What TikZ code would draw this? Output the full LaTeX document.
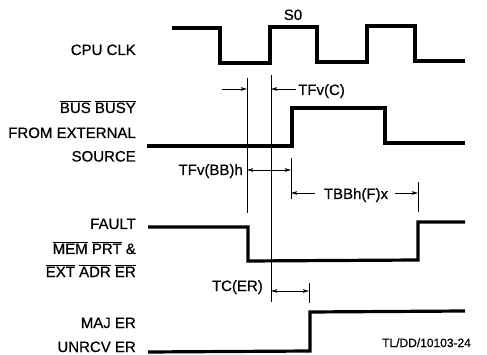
\documentclass[tikz,border=0pt]{standalone}
\usepackage{fontspec}
\setmainfont{Liberation Sans}[FakeBold=0.6]
\usetikzlibrary{arrows.meta,positioning}

\tikzset{
  sig/.style={line width=3.2pt, line join=miter},
  dim/.style={line width=0.8pt},
  dimarrow/.style={line width=0.8pt, -{Stealth[length=6pt,width=3.5pt,inset=1pt]}},
  dimboth/.style={line width=0.8pt, {Stealth[length=6pt,width=3.5pt,inset=1pt]}-{Stealth[length=6pt,width=3.5pt,inset=1pt]}},
  lbl/.style={anchor=base east, inner sep=0pt, font=\fontsize{15}{18}\selectfont},
  txt/.style={inner sep=0pt, font=\fontsize{15}{18}\selectfont},
}
\newcommand{\ovl}[1]{$\overline{\mbox{#1}}$}

\begin{document}
\begin{tikzpicture}[x=1pt,y=-1pt]
\useasboundingbox (0,0) rectangle (487,355);

% Signal names
\node[lbl] (cpuclk) at (136,55) {CPU CLK};
\node[lbl] (busbusy) at (136,113) {\ovl{BUS} \ovl{BUSY}};
\node[lbl] (fromext) at (136,138) {FROM EXTERNAL};
\node[lbl] (source) at (136,161.5) {SOURCE};
\node[lbl] (fault) at (136,229) {FAULT};
\node[lbl] (memprt) at (136,254) {\ovl{MEM} \ovl{PRT} \&};
\node[lbl] (extadr) at (136,277) {\ovl{EXT} \ovl{ADR} \ovl{ER}};
\node[lbl] (majer) at (136,328) {MAJ ER};
\node[lbl] (unrcv) at (136,352) {UNRCV ER};

% Waveforms
\draw[sig] (172,28) -- (220,28) -- (220,63) -- (270,63) -- (270,27) -- (317,27)
  -- (317,62) -- (367,62) -- (367,26) -- (415,26) -- (415,61) -- (465,61);
\draw[sig] (147,146) -- (292,146) -- (292,108) -- (385,108) -- (385,143) -- (465,143);
\draw[sig] (148,227) -- (248,227) -- (248,261) -- (418,260) -- (418,222) -- (465,222);
\draw[sig] (148,352) -- (310,351) -- (310,312) -- (465,311);

\node[txt, anchor=base] (szero) at (293,20) {S0};

% Extension lines
\coordinate (e1t) at (247,78);  \coordinate (e1b) at (247,213);
\coordinate (e2t) at (271,75);  \coordinate (e2b) at (271,302);
\coordinate (e3t) at (291,158); \coordinate (e3b) at (291,199);
\coordinate (e4t) at (418,182); \coordinate (e4b) at (418,212);
\coordinate (e5t) at (309,283); \coordinate (e5b) at (309,303);
\foreach \e in {1,...,5}
  \draw[dim] (e\e t) -- (e\e b);

% TFv(C)
\coordinate (a1) at (222,89);
\coordinate (a2) at (296,89);
\draw[dimarrow] (a1) -- (a1 -| e1t);
\draw[dimarrow] (a2) -- (a2 -| e2t);
\node[txt, anchor=base west] (tfvc) at (298,95) {TFv(C)};

% TFv(BB)h
\coordinate (a3) at (247,170);
\draw[dimboth] (a3) -- (a3 -| e3t);
\node[txt, anchor=base east] (tfvbb) at (243,175) {TFv(BB)h};

% TBBh(F)x
\node[txt, anchor=base] (tbbh) at (356,199) {TBBh(F)x};
\coordinate (a4) at (315,193);
\coordinate (a5) at (395,193);
\draw[dimarrow] (a4) -- (a4 -| e3t);
\draw[dimarrow] (a5) -- (a5 -| e4t);

% TC(ER)
\coordinate (a6) at (271,291);
\draw[dimboth] (a6) -- (a6 -| e5t);
\node[txt, anchor=base east] (tcer) at (263,291) {TC(ER)};

\node[inner sep=0pt, anchor=base west, font=\fontsize{12}{14}\selectfont] (tlref) at (382,347) {TL/DD/10103-24};
\end{tikzpicture}
\end{document}
